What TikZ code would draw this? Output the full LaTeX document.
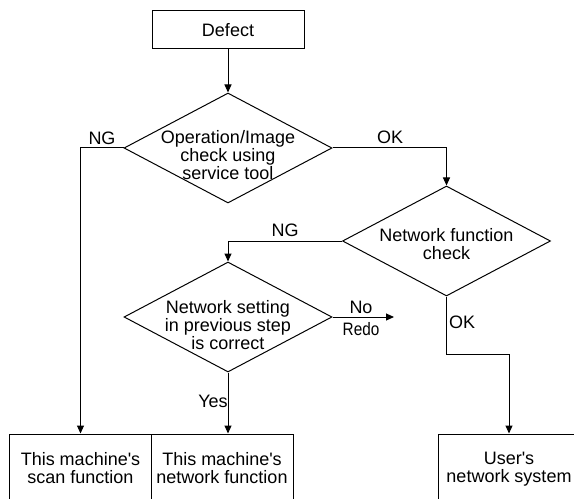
\documentclass[tikz,border=0pt]{standalone}
\usepackage{fontspec}
\setmainfont{Liberation Sans}
\usetikzlibrary{shapes.geometric,arrows.meta}
\tikzset{
  cell/.style={draw=black, line width=1bp, rectangle, inner sep=0pt, align=center, font=\fontsize{18bp}{18bp}\selectfont},
  test/.style={draw=black, line width=1bp, diamond, inner sep=0pt, minimum width=208bp, minimum height=110bp},
  tag/.style={inner sep=0pt, align=center, font=\fontsize{18bp}{18bp}\selectfont},
  flow/.style={line width=1bp, -{Triangle[length=8bp,width=7bp]}}
}

\begin{document}
\begin{tikzpicture}[x=1bp, y=-1bp]
  \useasboundingbox (0,0) rectangle (574,499);
  % boxes and checks
  \node[cell, minimum width=152bp, minimum height=38bp] (defect) at (228,30) {Defect};
  \node[test, label={[tag, yshift=-7bp]center:{Operation/Image\\check using\\service tool}}] (opchk) at (228,148) {};
  \node[test, label={[tag, yshift=-3bp]center:{Network function\\check}}] (netchk) at (446.5,241) {};
  \node[test, label={[tag, yshift=-8bp]center:{Network setting\\in previous step\\is correct}}] (setchk) at (228,317) {};
  \node[cell, minimum width=141bp, minimum height=68bp] (scan) at (80.5,468) {This machine\textquotesingle s\\scan function};
  \node[cell, minimum width=142bp, minimum height=68bp] (netfn) at (222,468) {This machine\textquotesingle s\\network function};
  \node[cell, minimum width=142bp, minimum height=70bp] (user) at (509,469) {User\textquotesingle s\\network system};
  \coordinate (redo) at (394,317);

  % connectors
  \draw[flow] (defect.south) -- (opchk.north);
  \draw[flow] (opchk.west) -| (scan.north);
  \draw[flow] (opchk.east) -| (netchk.north);
  \draw[flow] (netchk.west) -| (setchk.north);
  \draw[flow] (setchk.east) -- (redo);
  \draw[flow] (setchk.south) -- (setchk.south |- netfn.north);
  \draw[flow] (netchk.south) -- ++(0,58) -| (user.north);

  % branch labels
  \node[tag] (ngop) at (102,138) {NG};
  \node[tag] (okop) at (390,137) {OK};
  \node[tag] (ngnet) at (285,230) {NG};
  \node[tag] (okset) at (361,307) {No};
  \node[tag] (redotxt) at (361,329) {\scalebox{0.85}[1]{Redo}};
  \node[tag] (yesset) at (213,401) {Yes};
  \node[tag, anchor=west] (oknet) at (449,322) {OK};
\end{tikzpicture}
\end{document}
